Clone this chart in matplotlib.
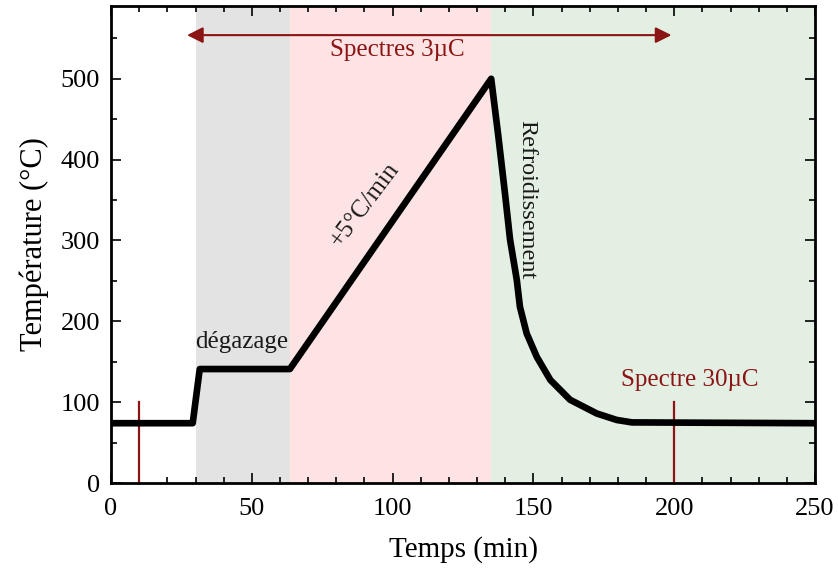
import numpy as np
import matplotlib.pyplot as plt
from matplotlib.ticker import MultipleLocator

plt.rcParams['font.family'] = ['Liberation Serif', 'DejaVu Serif']

# temperature profile
temps_min = [0, 29, 31.5, 63.5, 135, 137.5, 139.9, 141.7, 144.1, 145.2, 147.6, 151.2,
             156, 163, 172.5, 179.6, 185, 250]
temp_C = [74, 74, 141, 141, 500, 430, 358, 301, 251, 218, 185, 156,
          127.5, 103, 86, 78, 75, 74]

# shaded phases (start, end, colour)
phase_edges = [30, 63.5, 135, 250]
phase_colors = ['#e3e3e3', '#fde3e3', '#e4efe4']

spectre_marks = [10, 200]
mark_height = 100
arrow_span = [26, 200]
dark_red = '#8b1414'

fig = plt.figure(figsize=(8.38, 5.73), dpi=100)
ax = fig.add_axes([0.1325, 0.157, 0.8401, 0.8325])

for i in range(len(phase_colors)):
    ax.axvspan(phase_edges[i], phase_edges[i + 1], color=phase_colors[i], lw=0, zorder=0)

for xm in spectre_marks:
    ax.plot([xm, xm], [0, mark_height], color=dark_red, lw=1.6, zorder=2)

ax.plot(temps_min, temp_C, color='black', lw=4.8, solid_joinstyle='round', zorder=3)

ax.annotate('', xy=(arrow_span[0], 554), xytext=(arrow_span[1], 554),
            arrowprops=dict(arrowstyle='<|-|>', color=dark_red, lw=1.5, mutation_scale=24))
ax.text(101.6, 536, 'Spectres 3µC', color=dark_red, fontsize=18, ha='center', va='center')
ax.text(205.6, 127, 'Spectre 30µC', color=dark_red, fontsize=18, ha='center', va='center')
ax.text(46.4, 175, 'dégazage', color='#1a1a1a', fontsize=18, ha='center', va='center')
ax.text(90, 344, '+5°C/min', color='#1a1a1a', fontsize=18, ha='center', va='center', rotation=53)
ax.text(147.6, 350, 'Refroidissement', color='#1a1a1a', fontsize=17.5, ha='center', va='center',
        rotation=-90)

ax.set_xlim(0, 250)
ax.set_ylim(0, 590)
ax.xaxis.set_major_locator(MultipleLocator(50))
ax.xaxis.set_minor_locator(MultipleLocator(10))
ax.yaxis.set_major_locator(MultipleLocator(100))
ax.yaxis.set_minor_locator(MultipleLocator(50))
ax.tick_params(which='both', direction='in', top=True, right=True, labelsize=19, width=1.2)
ax.tick_params(which='major', length=7)
ax.tick_params(which='minor', length=4)
ax.tick_params(axis='x', which='major', pad=11)
ax.tick_params(axis='y', which='major', pad=8)
for s in ax.spines.values():
    s.set_linewidth(2)

ax.set_xlabel('Temps (min)', fontsize=21, labelpad=11)
ax.set_ylabel('Température (°C)', fontsize=22, labelpad=8)

fig.savefig('out.png', dpi=100)
